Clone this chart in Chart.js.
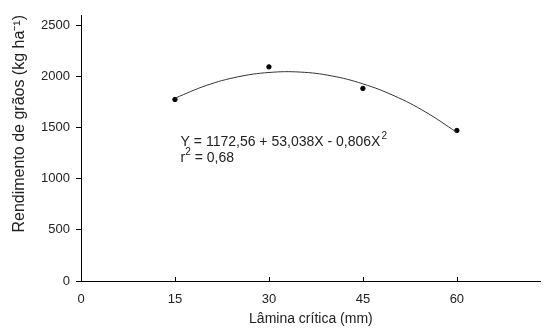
<!DOCTYPE html>
<html><head><meta charset="utf-8">
<script src="https://cdn.jsdelivr.net/npm/chart.js@4/dist/chart.umd.min.js"></script>
<style>html,body{margin:0;padding:0;background:#fff}#wrap{width:544px;height:332px}</style>
</head><body><div id="wrap"><canvas id="c" width="544" height="332"></canvas></div>
<script>
const obsX = [15, 30, 45, 60];
const obsY = [1774, 2093, 1882, 1471];
const fitX = [15, 20, 25, 30, 35, 40, 45, 50, 55, 60];
const fitY = [1787, 1911, 1995, 2038, 2042, 2005, 1927, 1810, 1652, 1453];
const xTicks = [0, 15, 30, 45, 60];
const yTicks = [0, 500, 1000, 1500, 2000, 2500];
const eqLine1 = "Y = 1172,56 + 53,038X - 0,806X";
const eqLine2 = "r";
const eqLine2b = " = 0,68";

const FONT = "'Liberation Sans', Arial, sans-serif";
const TXT = '#222';

const extras = {
  id: 'extras',
  afterDraw(chart) {
    const {ctx, scales:{x, y}, chartArea} = chart;
    ctx.save();
    ctx.strokeStyle = '#000'; ctx.lineWidth = 1;
    xTicks.forEach(v => {
      if (v === 0) return;
      const px = Math.round(x.getPixelForValue(v)) + 0.5;
      ctx.beginPath(); ctx.moveTo(px, chartArea.bottom); ctx.lineTo(px, chartArea.bottom - 4); ctx.stroke();
    });
    ctx.fillStyle = TXT;
    ctx.textBaseline = 'alphabetic';
    ctx.textAlign = 'left';
    ctx.font = '14px ' + FONT;
    const tx = x.getPixelForValue(15.9);
    const ty1 = y.getPixelForValue(1320);
    ctx.fillText(eqLine1, tx, ty1);
    let w = ctx.measureText(eqLine1).width;
    ctx.font = '10px ' + FONT;
    ctx.fillText('2', tx + w + 1, ty1 - 7);
    ctx.font = '14px ' + FONT;
    const ty2 = y.getPixelForValue(1165);
    ctx.fillText(eqLine2, tx, ty2);
    w = ctx.measureText(eqLine2).width;
    ctx.font = '10px ' + FONT;
    ctx.fillText('2', tx + w, ty2 - 7);
    const w2 = ctx.measureText('2').width;
    ctx.font = '14px ' + FONT;
    ctx.fillText(eqLine2b, tx + w + w2, ty2);
    ctx.restore();
  }
};

new Chart(document.getElementById('c'), {
  type: 'scatter',
  data: {
    datasets: [
      {
        type: 'line',
        data: fitX.map((v, i) => ({x: v, y: fitY[i]})),
        borderColor: '#333', borderWidth: 1, pointRadius: 0, tension: 0.4, fill: false
      },
      {
        data: obsX.map((v, i) => ({x: v, y: obsY[i]})),
        backgroundColor: '#000', borderColor: '#000', pointRadius: 2.2, pointHoverRadius: 2.2
      }
    ]
  },
  options: {
    responsive: false, animation: false, devicePixelRatio: 1,
    layout: {padding: {top: 15, right: 0, left: 0, bottom: 0}},
    plugins: {legend: {display: false}, tooltip: {enabled: false}},
    scales: {
      x: {
        type: 'linear', min: 0, max: 73.4,
        afterBuildTicks(s) { s.ticks = xTicks.map(v => ({value: v})); },
        afterFit(s) { s.height = 51; },
        grid: {display: true, drawOnChartArea: false, drawTicks: false, color: '#000'},
        border: {display: true, color: '#000', width: 1},
        ticks: {color: TXT, font: {family: FONT, size: 13}, padding: 11, maxRotation: 0, callback: v => String(v)},
        title: {display: true, text: 'Lâmina crítica (mm)', color: TXT, font: {family: FONT, size: 14}, padding: {top: 4, bottom: 4}}
      },
      y: {
        type: 'linear', min: 0, max: 2600,
        afterBuildTicks(s) { s.ticks = yTicks.map(v => ({value: v})); },
        afterFit(s) { s.width = 81; },
        grid: {display: true, drawOnChartArea: false, drawTicks: true, tickLength: 5, color: '#000'},
        border: {display: true, color: '#000', width: 1},
        ticks: {color: TXT, font: {family: FONT, size: 13}, padding: 6, callback: v => String(v)},
        title: {display: true, align: 'end', text: 'Rendimento de grãos (kg ha⁻¹)', color: TXT, font: {family: FONT, size: 16}, padding: {top: 10, bottom: 4}}
      }
    }
  },
  plugins: [extras]
});
</script></body></html>
